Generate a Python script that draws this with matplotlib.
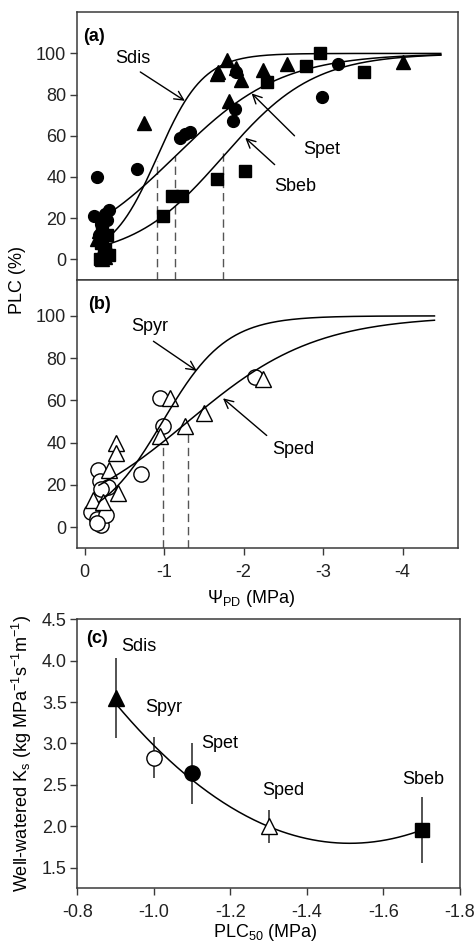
import numpy as np
import matplotlib
matplotlib.use("Agg")
import matplotlib.pyplot as plt

plt.rcParams['font.family'] = ['Liberation Sans', 'DejaVu Sans']
plt.rcParams['mathtext.fontset'] = 'custom'
plt.rcParams['mathtext.rm'] = 'Liberation Sans'
plt.rcParams['mathtext.it'] = 'Liberation Sans:italic'
plt.rcParams['axes.unicode_minus'] = False
plt.rcParams['font.size'] = 13

# (a) drought-induced loss of conductivity, three species
sdis_psi = [-0.15, -0.20, -0.25, -0.18, -0.28, -0.22, -0.75, -1.66, -1.68, -1.79,
            -1.91, -1.97, -1.81, -2.24, -2.54, -4.00]
sdis_plc = [10, 3, 1, 14, 6, 0, 66, 90, 91, 97, 93, 87, 77, 92, 95, 96]
spet_psi = [-0.15, -0.12, -0.25, -0.31, -0.20, -0.28, -0.18, -0.66, -1.20, -1.26,
            -1.33, -1.87, -1.89, -1.91, -2.99, -3.19]
spet_plc = [40, 21, 22, 24, 17, 19, 12, 44, 59, 61, 62, 67, 73, 91, 79, 95]
sbeb_psi = [-0.19, -0.31, -0.25, -0.20, -0.28, -0.22, -0.24, -0.99, -1.10, -1.22,
            -1.66, -2.02, -2.29, -2.79, -2.96, -3.52]
sbeb_plc = [0, 2, 5, 8, 12, 15, 3, 21, 31, 31, 39, 43, 86, 94, 100, 91]

# (b) two more species, open symbols
spyr_psi = [-0.17, -0.19, -0.29, -0.21, -0.08, -0.15, -0.21, -0.27, -0.16, -0.71,
            -0.95, -0.99, -2.14]
spyr_plc = [27, 22, 19, 18, 7, 4, 1, 6, 2, 25, 61, 48, 71]
sped_psi = [-0.40, -0.40, -0.31, -0.105, -0.42, -0.23, -0.95, -1.07, -1.26, -1.50, -2.24]
sped_plc = [40, 35, 27, 13, 16, 12, 43, 61, 48, 54, 70]

# vulnerability curve fits: PLC = 100 / (1 + exp(slope * (psi - p50)))
fit_a_names = ['Sdis', 'Spet', 'Sbeb']
fit_a_p50 = [-0.915, -1.137, -1.743]
fit_a_slope = [3.45, 1.5, 1.75]
fit_a_range = (-0.33, -4.48)
dash_a_top = [48, 50, 52]

fit_b_names = ['Spyr', 'Sped']
fit_b_p50 = [-0.98, -1.30]
fit_b_slope = [2.5, 1.245]
fit_b_range = (-0.18, -4.40)
dash_b_top = [42, 46]

# (c) well-watered Ks against PLC50
c_names = ['Sdis', 'Spyr', 'Spet', 'Sped', 'Sbeb']
c_plc50 = [-0.9, -1.0, -1.1, -1.3, -1.7]
c_ks = [3.55, 2.83, 2.64, 2.0, 1.95]
c_err = [0.48, 0.25, 0.37, 0.2, 0.4]

spine_col = '#3a3a3a'


def vuln(psi, p50, slope):
    return 100.0 / (1.0 + np.exp(slope * (psi - p50)))


def style_axes(ax):
    for s in ax.spines.values():
        s.set_color(spine_col)
        s.set_linewidth(1.1)
    ax.tick_params(direction='out', length=5, width=1, color=spine_col,
                   labelcolor='#222222', pad=2.5, top=False, right=False)


fig = plt.figure(figsize=(4.77, 9.42), dpi=100)
ax_a = fig.add_axes([0.1608, 0.7028, 0.800, 0.2842])
ax_b = fig.add_axes([0.1608, 0.4179, 0.800, 0.2849])
ax_c = fig.add_axes([0.1620, 0.0570, 0.8023, 0.2856])

# ---- panel (a)
ax_a.plot(sdis_psi, sdis_plc, '^', color='black', ms=9.5, zorder=2)
ax_a.plot(spet_psi, spet_plc, 'o', color='black', ms=8.5, zorder=2)
ax_a.plot(sbeb_psi, sbeb_plc, 's', color='black', ms=8, zorder=2)
xx = np.linspace(fit_a_range[0], fit_a_range[1], 300)
for p50, k, top in zip(fit_a_p50, fit_a_slope, dash_a_top):
    ax_a.plot(xx, vuln(xx, p50, k), color='black', lw=1.1, zorder=3)
    ax_a.plot([p50, p50], [-10, top], color='#555555', lw=1, ls=(0, (6, 3.5)), zorder=1)

arrow = dict(arrowstyle='->', color='black', lw=1, shrinkA=0, shrinkB=0,
             mutation_scale=16)
ax_a.annotate('', xy=(-1.26, 77), xytext=(-0.70, 91), arrowprops=arrow)
ax_a.annotate('', xy=(-2.10, 80.6), xytext=(-2.64, 60), arrowprops=arrow)
ax_a.annotate('', xy=(-2.02, 59), xytext=(-2.39, 46), arrowprops=arrow)
ax_a.text(-0.607, 97.6, 'Sdis', ha='center', va='center')
ax_a.text(-2.98, 53.5, 'Spet', ha='center', va='center')
ax_a.text(-2.65, 35.2, 'Sbeb', ha='center', va='center')
ax_a.text(0.017, 0.909, '(a)', transform=ax_a.transAxes, fontweight='bold',
          ha='left', va='center')

ax_a.set_xlim(0.1, -4.7)
ax_a.set_ylim(-10, 120)
ax_a.set_yticks([0, 20, 40, 60, 80, 100])
ax_a.set_xticks([])
style_axes(ax_a)

# ---- panel (b)
ax_b.plot(spyr_psi, spyr_plc, 'o', mfc='white', mec='black', mew=1, ms=11, zorder=2)
ax_b.plot(sped_psi, sped_plc, '^', mfc='white', mec='black', mew=1, ms=11, zorder=2)
xx = np.linspace(fit_b_range[0], fit_b_range[1], 300)
for p50, k, top in zip(fit_b_p50, fit_b_slope, dash_b_top):
    ax_b.plot(xx, vuln(xx, p50, k), color='black', lw=1.1, zorder=3)
    ax_b.plot([p50, p50], [-10, top], color='#555555', lw=1, ls=(0, (6, 3.5)), zorder=1)

ax_b.annotate('', xy=(-1.41, 74), xytext=(-0.865, 88), arrowprops=arrow)
ax_b.annotate('', xy=(-1.74, 61), xytext=(-2.29, 43.4), arrowprops=arrow)
ax_b.text(-0.82, 95.2, 'Spyr', ha='center', va='center')
ax_b.text(-2.62, 36.8, 'Sped', ha='center', va='center')
ax_b.text(0.030, 0.907, '(b)', transform=ax_b.transAxes, fontweight='bold',
          ha='left', va='center')

ax_b.set_xlim(0.1, -4.7)
ax_b.set_ylim(-10, 117)
ax_b.set_yticks([0, 20, 40, 60, 80, 100])
ax_b.set_xticks([0, -1, -2, -3, -4])
ax_b.set_xticklabels(['0', '-1', '-2', '-3', '-4'])
style_axes(ax_b)
ax_b.tick_params(axis='x', pad=6)

fig.text(0.036, 0.703, 'PLC (%)', rotation=90, ha='center', va='center')
fig.text(0.526, 0.365, r'$\Psi_{\mathrm{PD}}$ (MPa)', ha='center', va='center')

# ---- panel (c)
coef = np.polyfit(c_plc50, c_ks, 2)
xc = np.linspace(c_plc50[0], c_plc50[-1], 200)
ax_c.plot(xc, np.polyval(coef, xc), color='black', lw=1.1, zorder=2)
ax_c.errorbar(c_plc50, c_ks, yerr=c_err, fmt='none', ecolor='#444444',
              elinewidth=1.3, capsize=0, zorder=1)
c_markers = ['^', 'o', 'o', '^', 's']
c_faces = ['black', 'white', 'black', 'white', 'black']
c_sizes = [11, 11, 11, 11, 10]
for x, y, m, f, s in zip(c_plc50, c_ks, c_markers, c_faces, c_sizes):
    ax_c.plot(x, y, m, mfc=f, mec='black', mew=1, ms=s, zorder=3)

c_label_pos = [(-0.961, 4.17), (-1.027, 3.43), (-1.173, 3.0), (-1.337, 2.43), (-1.704, 2.57)]
for name, (x, y) in zip(c_names, c_label_pos):
    ax_c.text(x, y, name, ha='center', va='center')
ax_c.text(0.023, 0.927, '(c)', transform=ax_c.transAxes, fontweight='bold',
          ha='left', va='center')

ax_c.set_xlim(-0.8, -1.8)
ax_c.set_ylim(1.25, 4.5)
ax_c.set_xticks([-0.8, -1.0, -1.2, -1.4, -1.6, -1.8])
ax_c.set_xticklabels(['-0.8', '-1.0', '-1.2', '-1.4', '-1.6', '-1.8'])
ax_c.set_yticks([1.5, 2.0, 2.5, 3.0, 3.5, 4.0, 4.5])
ax_c.set_yticklabels(['1.5', '2.0', '2.5', '3.0', '3.5', '4.0', '4.5'])
style_axes(ax_c)
ax_c.tick_params(axis='x', pad=6)

fig.text(0.046, 0.200,
         r'Well-watered K$_{\mathrm{s}}$ (kg MPa$^{\mathrm{-1}}$s$^{\mathrm{-1}}$m$^{\mathrm{-1}}$)',
         rotation=90, ha='center', va='center')
fig.text(0.556, 0.010, r'PLC$_{50}$ (MPa)', ha='center', va='center')

fig.savefig('out.png', dpi=100)
